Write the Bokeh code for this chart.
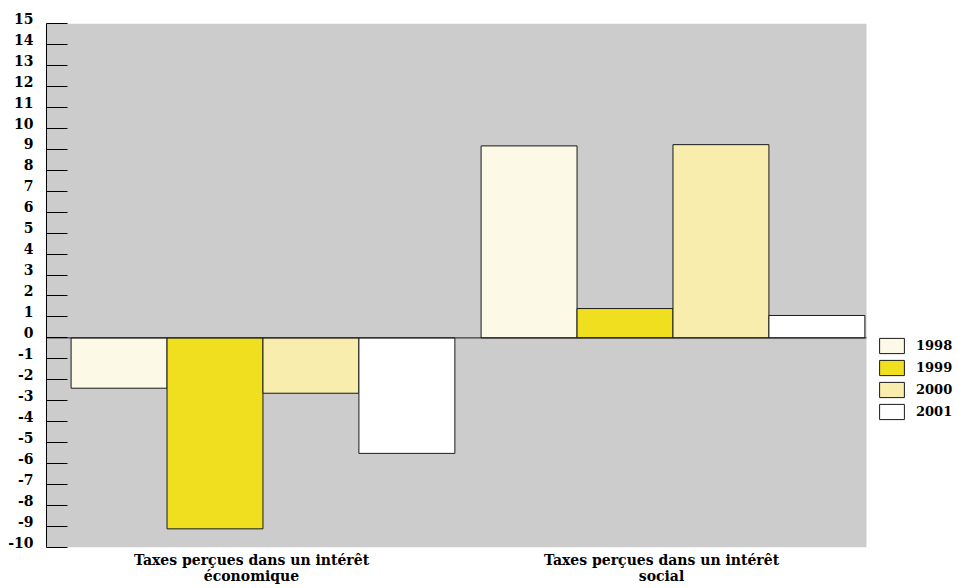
from bokeh.plotting import figure
from bokeh.models import FixedTicker, Legend, LegendItem, Range1d
from bokeh.embed import file_html
from bokeh.resources import INLINE

categories = ["Taxes perçues dans un intérêt\néconomique", "Taxes perçues dans un intérêt\nsocial"]
years = ["1998", "1999", "2000", "2001"]
v1998 = [-2.40, 9.16]
v1999 = [-9.11, 1.40]
v2000 = [-2.64, 9.22]
v2001 = [-5.51, 1.07]
series = [v1998, v1999, v2000, v2001]
colors = ["#FCF9E6", "#EFDF1E", "#F8EDAC", "#FFFFFF"]
y_ticks = list(range(-10, 16))

FONT = "DejaVu Serif"
Y0, Y1 = -10, 15
NCAT = len(categories)
X_END = NCAT + 101 / 410  # room on the right for the legend

p = figure(width=967, height=588, output_backend="svg", toolbar_location=None,
           x_range=Range1d(0, X_END), y_range=Range1d(Y0, Y1),
           min_border_left=46, min_border_right=0, min_border_top=23, min_border_bottom=41)
p.background_fill_color = "white"
p.border_fill_color = "white"
p.outline_line_color = None
p.xgrid.visible = False
p.ygrid.visible = False

# grey plotting area
p.quad(left=0, right=NCAT, bottom=Y0, top=Y1, fill_color="#CCCCCC", line_color=None)

offsets = [0.177, 0.411, 0.645, 0.879]
bar_w = 0.234
items = []
for i, (yr, vals, col) in enumerate(zip(years, series, colors)):
    xs = [g + offsets[i] for g in range(NCAT)]
    r = p.vbar(x=xs, top=vals, bottom=0, width=bar_w, fill_color=col,
               line_color="#1a1a1a", line_width=1)
    items.append(LegendItem(label=yr, renderers=[r]))

# zero line
p.segment(x0=[0], y0=[0], x1=[NCAT], y1=[0], line_color="#1a1a1a", line_width=1)

# y axis
ya = p.yaxis[0]
ya.ticker = FixedTicker(ticks=y_ticks)
ya.major_label_overrides = {t: str(t) + "\n" for t in y_ticks}
ya.minor_tick_line_color = None
ya.major_tick_in = 21
ya.major_tick_out = 0
ya.major_tick_line_color = "black"
ya.major_tick_line_width = 1
ya.axis_line_color = "black"
ya.major_label_standoff = 13
ya.major_label_text_font = FONT
ya.major_label_text_font_style = "bold"
ya.major_label_text_font_size = "14px"
ya.major_label_text_color = "black"
ya.major_label_text_line_height = 0.6

# x axis
xa = p.xaxis[0]
xa.ticker = FixedTicker(ticks=[0.5, 1.5])
xa.major_label_overrides = {0.5: categories[0], 1.5: categories[1]}
xa.axis_line_color = None
xa.major_tick_line_color = None
xa.minor_tick_line_color = None
xa.major_tick_in = 0
xa.major_tick_out = 0
xa.major_label_standoff = 4
xa.major_label_text_font = FONT
xa.major_label_text_font_style = "bold"
xa.major_label_text_font_size = "14px"
xa.major_label_text_color = "black"
xa.major_label_text_line_height = 1.05

legend = Legend(items=items, location=(830, 126), orientation="vertical",
                glyph_width=31, glyph_height=19, label_standoff=9, spacing=3,
                label_height=19, padding=0, margin=0,
                border_line_color=None, background_fill_alpha=0,
                label_text_font=FONT, label_text_font_style="bold",
                label_text_font_size="13px", label_text_color="black")
p.add_layout(legend, "center")

open("out.html", "w").write(file_html(p, INLINE))
